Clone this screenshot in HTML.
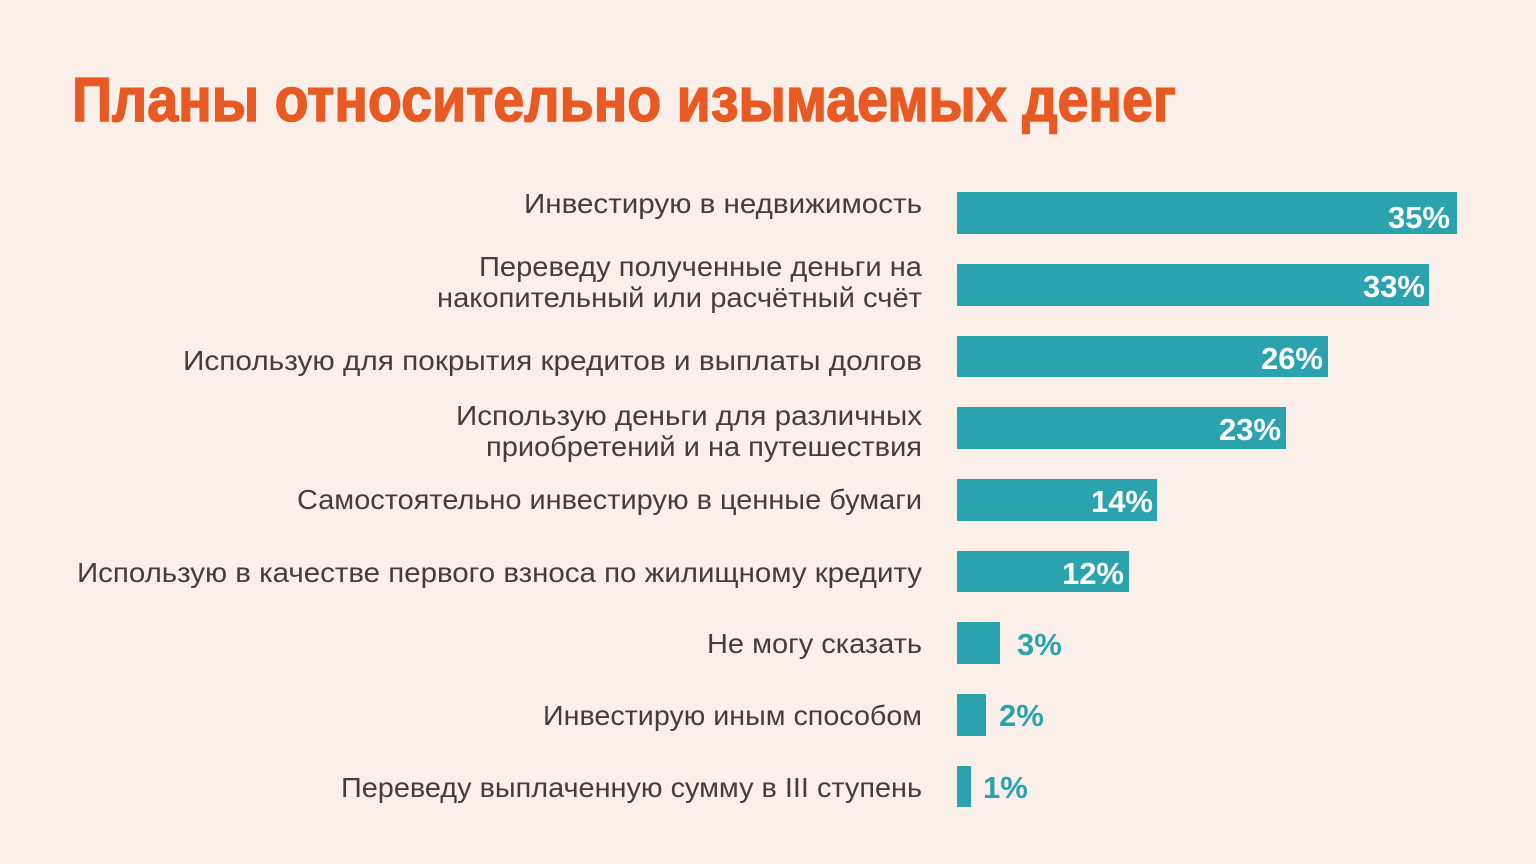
<!DOCTYPE html>
<html><head><meta charset="utf-8"><style>
html,body{margin:0;padding:0;background:#FAF0E9;}
svg{display:block}
</style></head><body>
<svg width="1536" height="864" viewBox="0 0 1536 864" xmlns="http://www.w3.org/2000/svg">
<rect width="1536" height="864" fill="#FAF0E9"/>
<text x="72" y="121" font-family="Liberation Sans, sans-serif" font-weight="bold" font-size="62" fill="#E85A24" textLength="1104" lengthAdjust="spacingAndGlyphs" stroke="#E85A24" stroke-width="1.5">Планы относительно изымаемых денег</text>
<g font-family="Liberation Sans, sans-serif" font-size="28" fill="#4A3A3A" text-anchor="end">
<text x="922" y="213" textLength="398" lengthAdjust="spacingAndGlyphs">Инвестирую в недвижимость</text>
<text x="922" y="276" textLength="443" lengthAdjust="spacingAndGlyphs">Переведу полученные деньги на</text>
<text x="922" y="307" textLength="485" lengthAdjust="spacingAndGlyphs">накопительный или расчётный счёт</text>
<text x="922" y="370" textLength="739" lengthAdjust="spacingAndGlyphs">Использую для покрытия кредитов и выплаты долгов</text>
<text x="922" y="425" textLength="466" lengthAdjust="spacingAndGlyphs">Использую деньги для различных</text>
<text x="922" y="456" textLength="436" lengthAdjust="spacingAndGlyphs">приобретений и на путешествия</text>
<text x="922" y="509" textLength="625" lengthAdjust="spacingAndGlyphs">Самостоятельно инвестирую в ценные бумаги</text>
<text x="922" y="582" textLength="845" lengthAdjust="spacingAndGlyphs">Использую в качестве первого взноса по жилищному кредиту</text>
<text x="922" y="653" textLength="215" lengthAdjust="spacingAndGlyphs">Не могу сказать</text>
<text x="922" y="725" textLength="379" lengthAdjust="spacingAndGlyphs">Инвестирую иным способом</text>
<text x="922" y="797" textLength="581" lengthAdjust="spacingAndGlyphs">Переведу выплаченную сумму в III ступень</text>
</g>
<g fill="#2BA3AE">
<rect x="957" y="192" width="500" height="42"/>
<rect x="957" y="264" width="472" height="42"/>
<rect x="957" y="336" width="371" height="41"/>
<rect x="957" y="407" width="329" height="42"/>
<rect x="957" y="479" width="200" height="42"/>
<rect x="957" y="551" width="172" height="41"/>
<rect x="957" y="622" width="43" height="42"/>
<rect x="957" y="694" width="29" height="42"/>
<rect x="957" y="766" width="14" height="41"/>
</g>
<g font-family="Liberation Sans, sans-serif" font-weight="bold" font-size="31" fill="#FFFFFF" text-anchor="end">
<text x="1450" y="228">35%</text>
<text x="1425" y="297">33%</text>
<text x="1323" y="369">26%</text>
<text x="1281" y="440">23%</text>
<text x="1153" y="512">14%</text>
<text x="1124" y="584">12%</text>
</g>
<g font-family="Liberation Sans, sans-serif" font-weight="bold" font-size="31" fill="#2BA3AE">
<text x="1017" y="655">3%</text>
<text x="999" y="726">2%</text>
<text x="983" y="798">1%</text>
</g>
</svg>
</body></html>
